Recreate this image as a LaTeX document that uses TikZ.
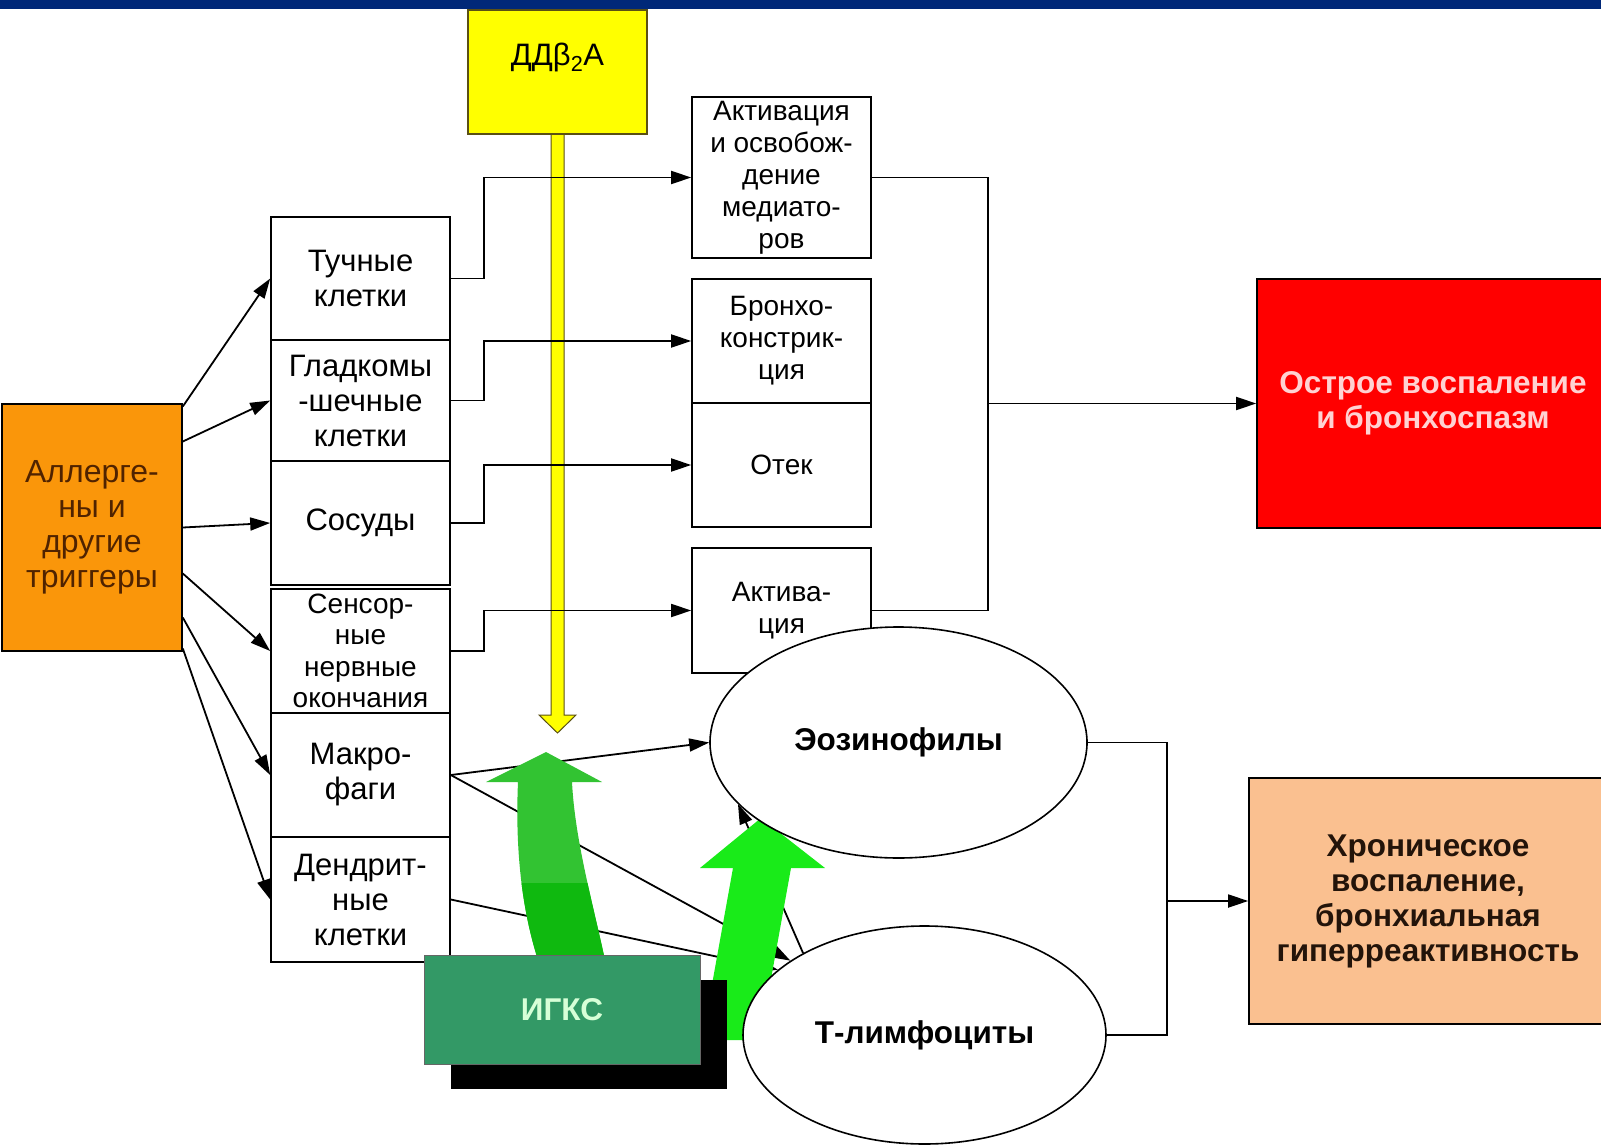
\documentclass[tikz,border=0pt]{standalone}
\usepackage{fontspec}
\setmainfont{Liberation Sans}
\usepackage{tikz}
\usetikzlibrary{arrows.meta,shapes.geometric,shadows}

\definecolor{barblue}{RGB}{0,40,120}
\definecolor{ddyellow}{RGB}{255,255,0}
\definecolor{ddedge}{RGB}{90,80,20}
\definecolor{allorange}{RGB}{250,150,10}
\definecolor{allbrown}{RGB}{80,35,0}
\definecolor{acutered}{RGB}{255,0,0}
\definecolor{acutetext}{RGB}{255,210,210}
\definecolor{chronpeach}{RGB}{250,192,144}
\definecolor{chrontext}{RGB}{35,20,10}
\definecolor{igksgreen}{RGB}{51,153,102}
\definecolor{igkstext}{RGB}{215,255,215}
\definecolor{gupper}{RGB}{50,195,50}
\definecolor{glower}{RGB}{15,185,15}
\definecolor{gbright}{RGB}{25,235,25}

\pgfdeclarelayer{behind}
\pgfdeclarelayer{wires}
\pgfsetlayers{behind,wires,main}

\begin{document}
\begin{tikzpicture}[x=1pt,y=-1pt,
    >={Triangle[length=20pt,width=13pt]},
    every node/.style={align=center, font=\fontsize{31}{35}\selectfont},
    cellbox/.style={draw, line width=1.6pt, fill=white, minimum width=179pt, inner sep=0pt},
    midfont/.style={font=\fontsize{28}{32}\selectfont},
    boldfont/.style={font=\bfseries\fontsize{31.5}{35}\selectfont},
    oval/.style={ellipse, draw, line width=1.6pt, fill=white, inner sep=0pt, boldfont},
    link/.style={line width=1.8pt}]
    \useasboundingbox (0,0) rectangle (1601,1145);

    % Draw the top bar
    \fill[barblue] (0,0) rectangle (1601,9);

    % Triggers and the yellow box
    \node[draw, line width=1.6pt, fill=allorange, text=allbrown, minimum width=180pt,
      minimum height=247pt, font=\fontsize{32}{35}\selectfont] (allerg) at (92,527.5)
      {Аллерге-\\ны и\\другие\\триггеры};
    \node[draw=ddedge, line width=1.6pt, fill=ddyellow, minimum width=179pt, minimum height=124pt,
      label={[anchor=center, yshift=-48pt]north:ДДβ\textsubscript{2}А}] (ddba) at (557.5,72) {};

    % Cells
    \node[cellbox, minimum height=123pt] (tuch) at (360.5,278.5) {Тучные\\клетки};
    \node[cellbox, minimum height=121pt] (smooth) at (360.5,400.5) {Гладкомы\\-шечные\\клетки};
    \node[cellbox, minimum height=124pt] (vessel) at (360.5,523) {Сосуды};
    \node[cellbox, minimum height=124pt, font=\fontsize{28}{31.5}\selectfont] (nerve) at (360.5,651)
      {Сенсор-\\ные\\нервные\\окончания};
    \node[cellbox, minimum height=124pt] (macro) at (360.5,775) {Макро-\\фаги};
    \node[cellbox, minimum height=125pt] (dendr) at (360.5,899.5) {Дендрит-\\ные\\клетки};

    % Effects
    \node[cellbox, midfont, minimum height=161pt] (mediat) at (781.5,177.5)
      {Активация\\и освобож-\\дение\\медиато-\\ров};
    \node[cellbox, midfont, minimum height=124pt] (bronch) at (781.5,341) {Бронхо-\\констрик-\\ция};
    \node[cellbox, midfont, minimum height=124pt] (edema) at (781.5,465) {Отек};
    \node[cellbox, midfont, minimum height=125pt] (activ) at (781.5,610.5) {Актива-\\ция};

    % Outcomes
    \node[draw, line width=1.6pt, fill=acutered, text=acutetext, minimum width=352pt, minimum height=249pt,
      boldfont] (acute) at (1433,403.5) {Острое воспаление\\и бронхоспазм};
    \node[draw, line width=1.6pt, fill=chronpeach, text=chrontext, minimum width=358pt, minimum height=246pt,
      boldfont] (chronic) at (1428,901)
      {Хроническое\\воспаление,\\бронхиальная\\гиперреактивность};

    % Green arrows
    \fill[gupper] (538,960) .. controls (522,910) and (515,850) .. (518,782) -- (486,782) -- (546,752)
      -- (602,782) -- (572,782) .. controls (575,840) and (592,900) .. (605,960) -- cycle;
    \begin{scope}
      \clip (400,883) rectangle (700,1000);
      \fill[glower] (538,960) .. controls (522,910) and (515,850) .. (518,782) -- (486,782) -- (546,752)
        -- (602,782) -- (572,782) .. controls (575,840) and (592,900) .. (605,960) -- cycle;
    \end{scope}
    \fill[gbright] (702,1040) -- (733,868) -- (700,868) -- (761,818) -- (825,868) -- (791,868)
      -- (760,1040) -- cycle;

    % Cells in the ovals and the drug box
    \node[oval, minimum width=377pt, minimum height=231pt] (eos) at (898.5,742.5) {Эозинофилы};
    \node[draw=black!60, line width=1pt, fill=igksgreen, text=igkstext, minimum width=276pt,
      minimum height=109pt, boldfont,
      drop shadow={shadow xshift=27pt, shadow yshift=-25pt, fill=black, opacity=1}] (igks) at (562,1009.5) {ИГКС};
    \node[oval, minimum width=363pt, minimum height=218pt] (tly) at (924.5,1035) {Т-лимфоциты};

    % Yellow arrow
    \begin{pgfonlayer}{behind}
      \draw[draw=ddedge, fill=ddyellow, line width=1pt] (551,134) -- (551,715) -- (539,715) -- (557.5,733)
        -- (576,715) -- (564,715) -- (564,134) -- cycle;
    \end{pgfonlayer}

    % Connectors
    \begin{pgfonlayer}{wires}
      \draw[link,->] ([yshift=121pt]allerg.east) -- (tuch.west);
      \draw[link,->] ([yshift=86pt]allerg.east) -- (smooth.west);
      \draw[link,->] (allerg.east) -- (vessel.west);
      \draw[link,->] ([yshift=-46pt]allerg.east) -- (nerve.west);
      \draw[link,->] ([yshift=-90pt]allerg.east) -- (macro.west);
      \draw[link,->] ([yshift=-121pt]allerg.east) -- (dendr.west);

      \draw[link,->] (tuch.east) -- ++(33,0) |- (mediat.west);
      \draw[link,->] (smooth.east) -- ++(33,0) |- (bronch.west);
      \draw[link,->] (vessel.east) -- ++(33,0) |- (edema.west);
      \draw[link,->] (nerve.east) -- ++(33,0) |- (activ.west);

      \draw[link,->] (macro.east) -- (eos.west);
      \draw[link,->] (macro.east) -- (tly.151);
      \draw[link,->] (dendr.east) -- (tly.156);
      \draw[link,->] (tly.146) -- (eos.201);

      \coordinate (acjoin) at (988,403.5);
      \draw[link] (mediat.east) -| (acjoin) |- (activ.east);
      \draw[link,->] (acjoin) -- (acute.west);

      \coordinate (chjoin) at (1167,901);
      \draw[link] (eos.east) -| (chjoin) |- (tly.east);
      \draw[link,->] (chjoin) -- (chronic.west);
    \end{pgfonlayer}
\end{tikzpicture}
\end{document}
